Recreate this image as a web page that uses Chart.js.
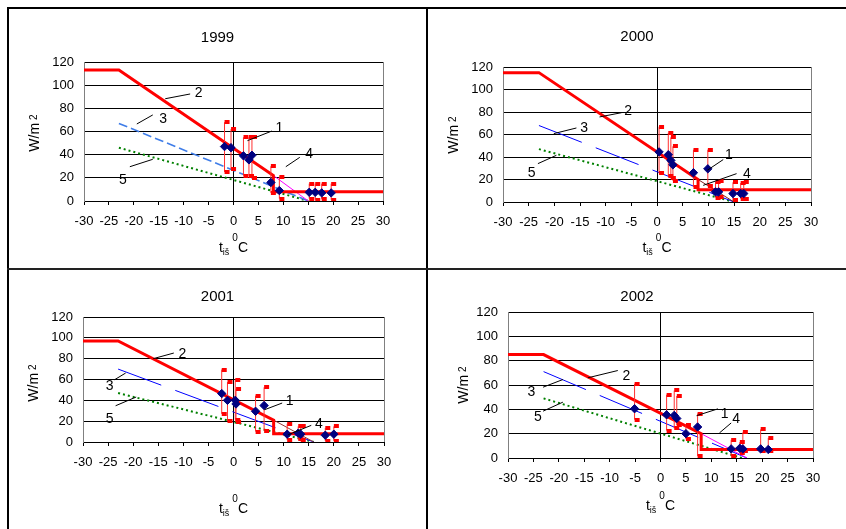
<!DOCTYPE html>
<html lang="lt">
<head>
<meta charset="utf-8">
<title>Šilumos poreikis 1999–2002</title>
<script src="https://cdn.jsdelivr.net/npm/chart.js@4.4.1/dist/chart.umd.min.js"></script>
<style>
  html, body { margin: 0; padding: 0; background: #fff; }
  body { width: 846px; height: 529px; position: relative; overflow: hidden; }
  .rule { position: absolute; background: #000; }
  .panel { position: absolute; }
</style>
</head>
<body>
<div class="rule" style="left:7px;top:7px;width:839px;height:2px"></div>
<div class="rule" style="left:7px;top:7px;width:2px;height:522px"></div>
<div class="rule" style="left:426px;top:7px;width:2px;height:522px"></div>
<div class="rule" style="left:7px;top:268px;width:839px;height:2px;background:#222"></div>
<div class="panel" id="p0"><canvas id="c0"></canvas></div>
<div class="panel" id="p1"><canvas id="c1"></canvas></div>
<div class="panel" id="p2"><canvas id="c2"></canvas></div>
<div class="panel" id="p3"><canvas id="c3"></canvas></div>

<script>
// Duomenys
const years = ['1999', '2000', '2001', '2002'];
const xTickValues = [-30, -25, -20, -15, -10, -5, 0, 5, 10, 15, 20, 25, 30];
const yTickValues = [0, 20, 40, 60, 80, 100, 120];

// 1 - measured points: outdoor temp, mean W/m2, max, min
const measT = [
  [-1.8, -0.5, 2.0, 3.1, 3.7, 7.5, 9.2, 15.2, 16.4, 17.7, 19.6],
  [0.4, 2.2, 2.7, 3.1, 7.1, 9.9, 11.4, 12.0, 14.8, 16.3, 16.9],
  [-2.35, -1.2, 0.35, 0.5, 4.4, 6.1, 10.7, 12.9, 13.4, 18.3, 20.0],
  [-5.1, 1.2, 2.7, 3.2, 5.0, 7.3, 13.9, 15.6, 16.2, 19.7, 21.2]
];
const measQ = [
  [47, 46, 39, 35.5, 39.5, 16, 9, 7.5, 7.5, 7, 7],
  [44.5, 42, 37, 33, 26, 29.5, 9, 9, 7.5, 7.5, 7.5],
  [46.5, 40, 40, 36.5, 29.5, 35, 7.5, 8.5, 7.5, 6.5, 7.5],
  [40.5, 35.5, 35, 32.5, 20, 25.5, 7.5, 8, 7.5, 7.5, 7]
];
const measHi = [
  [68, 62, 55, 55, 55, 30, 21, 15, 15, 15, 15],
  [67, 61.5, 57.5, 49.5, 46.5, 46.5, 18, 19, 17.5, 17, 18],
  [69.5, 57.5, 60, 51, 44.5, 52.5, 17.5, 15, 15, 13.5, 15],
  [61, 52, 55.5, 51, 27, 36.5, 15, 13, 21, 23.5, 16.5]
];
const measLo = [
  [25, 27.5, 22, 22, 20, 7, 2, 2, 1, 1.5, 1],
  [25.5, 23, 21, 19, 13.5, 14, 4, 4.5, 1.5, 3, 3],
  [27, 20, 21.5, 19, 10, 11, 2, 2.5, 2, 1, 1],
  [31.5, 22.5, 24.5, 27, 15.5, 1.5, 1.5, 4.5, 5.5, 5.5, 5.5]
];

// 2 - norm line (break points)
const normX = [-30, -23, 8, 8, 30];
const normY = [
  [113, 113, 22, 8, 8],
  [115, 115, 20, 11, 11],
  [97, 97, 21, 8, 8],
  [85, 85, 20, 7, 7]
];

// 3, 4, 5 - straight lines (start/end)
const line3X = [[-23, 15], [-23, 15], [-23, 16], [-23, 17]];
const line3Y = [[67, 0], [68, 0], [70, 0], [71, 0]];
const line4X = [[8, 15], [8, 15], [8, 16], [8, 17]];
const line4Y = [[22, 0], [20, 0], [21, 0], [20, 0]];
const line5X = [[-23, 15], [-23, 15], [-23, 16], [-23, 16]];
const line5Y = [[46, 0], [47, 0], [47, 0], [49, 0]];

// curve numbers: label, text x/y, leader from x/y, leader to x/y (axis units)
const callouts = [
  [['2', -7.0, 94, -13.7, 88.3, -8.7, 92.4], ['3', -14.1, 71.4, -19.4, 66.5, -16.2, 74.3],
   ['5', -22.2, 19, -20.8, 29.6, -16.2, 36], ['1', 9.2, 64.2, 2.8, 52.1, 7.7, 60.4],
   ['4', 15.2, 41.7, 10.5, 29.6, 13.3, 37.7]],
  [['2', -5.6, 81.5, -11.2, 75.6, -6.9, 79.4], ['3', -14.2, 66.7, -20.1, 60.8, -15.7, 65.8],
   ['5', -24.4, 26.7, -23.2, 34.1, -19.6, 41.5], ['1', 14.0, 42.4, 9.8, 28.2, 12.9, 37.7],
   ['4', 17.5, 25.8, 9.0, 14.8, 15.5, 25.2]],
  [['2', -10.2, 85.4, -16.0, 80, -11.9, 85.4], ['3', -24.7, 55, -23.7, 59.8, -21.5, 66.2],
   ['5', -24.7, 23, -23.5, 34.8, -19.4, 43.2], ['1', 11.2, 40.6, 6.2, 31, 9.7, 37.4],
   ['4', 17.0, 18.2, 10.9, 7, 15.5, 16]],
  [['2', -6.7, 68.6, -14.3, 65.9, -8.4, 71.9], ['3', -25.4, 54.9, -23.1, 58.2, -19.2, 64.5],
   ['5', -24.1, 34.3, -23.1, 38.5, -19.2, 45.9], ['1', 12.6, 37.1, 7.1, 34.8, 11.3, 40.4],
   ['4', 14.9, 33, 11.6, 20.6, 13.9, 28.8]]
];

// Layout (page px): canvas box, plot area, title/axis-title positions
const boxes = [
  { l: 9, t: 9, w: 417, h: 259 }, { l: 428, t: 9, w: 418, h: 259 },
  { l: 9, t: 270, w: 417, h: 259 }, { l: 428, t: 270, w: 418, h: 259 }
];
const plots = [
  { l: 84, t: 62, r: 383, b: 201 }, { l: 503, t: 67, r: 811, b: 202 },
  { l: 83, t: 317, r: 384, b: 442 }, { l: 508, t: 312, r: 813, b: 458 }
];
const titleBase = [41.5, 41, 301.3, 301.3];
const xTitleBase = [251.7, 251.7, 513, 510];
const yTitleBase = [39.3, 458.3, 38.3, 468];
const yTitleMid = [133, 135, 383, 385];

const line3Style = [
  { color: '#3f7de8', width: 1.6, dash: [9, 4] },
  { color: '#0000ff', width: 1, dash: [46, 15] },
  { color: '#0000ff', width: 1, dash: [46, 15] },
  { color: '#0000ff', width: 1, dash: [46, 15] }
];
const line4Color = ['#ff00ff', '#7f1f1f', '#993333', '#ff00ff'];

const FONT = '"Liberation Sans", Arial, sans-serif';
Chart.defaults.font.family = FONT;
Chart.defaults.color = '#000';

// red flag used for max/min marks (square sits right of the bar)
const flag = document.createElement('canvas');
flag.width = 12;
flag.height = 4;
const fctx = flag.getContext('2d');
fctx.fillStyle = '#ff0000';
fctx.fillRect(6, 0, 5, 4);

const pts = (xs, ys) => xs.map((x, i) => ({ x, y: ys[i] }));

function drawRich(ctx, parts, x, y, rotate) {
  ctx.save();
  ctx.translate(x, y);
  if (rotate) ctx.rotate(-Math.PI / 2);
  let total = 0;
  parts.forEach(p => {
    ctx.font = p.size + 'px ' + FONT;
    p.w = ctx.measureText(p.t).width + (p.gap || 0);
    total += p.w;
  });
  let cx = -total / 2;
  ctx.fillStyle = '#000';
  ctx.textBaseline = 'alphabetic';
  ctx.textAlign = 'left';
  parts.forEach(p => {
    ctx.font = p.size + 'px ' + FONT;
    ctx.fillText(p.t, cx, p.dy || 0);
    cx += p.w;
  });
  ctx.restore();
}

function makeDecor(i) {
  const box = boxes[i];
  return {
    id: 'decor',
    afterDraw(chart) {
      const { ctx, scales: { x, y }, chartArea: a } = chart;
      // title
      ctx.save();
      ctx.font = '15px ' + FONT;
      ctx.fillStyle = '#000';
      ctx.textAlign = 'center';
      ctx.textBaseline = 'alphabetic';
      ctx.fillText(years[i], box.w / 2, titleBase[i] - box.t);

      // curve numbers with leaders
      ctx.font = '14px ' + FONT;
      ctx.strokeStyle = '#000';
      ctx.lineWidth = 1;
      callouts[i].forEach(([txt, tx, ty, x1, y1, x2, y2]) => {
        ctx.beginPath();
        ctx.moveTo(x.getPixelForValue(x1), y.getPixelForValue(y1));
        ctx.lineTo(x.getPixelForValue(x2), y.getPixelForValue(y2));
        ctx.stroke();
        ctx.fillText(txt, x.getPixelForValue(tx), y.getPixelForValue(ty) + 5);
      });
      ctx.restore();

      // axis titles
      drawRich(ctx, [
        { t: 't', size: 14 }, { t: 'iš', size: 9, dy: 3, gap: 3 },
        { t: '0', size: 10, dy: -11 }, { t: 'C', size: 14 }
      ], (a.left + a.right) / 2, xTitleBase[i] - box.t, false);
      drawRich(ctx, [
        { t: 'W/m', size: 14, gap: 3 }, { t: '2', size: 10, dy: -2 }
      ], yTitleBase[i] - box.l, yTitleMid[i] - box.t, true);
    }
  };
}

years.forEach((yr, i) => {
  const box = boxes[i];
  const plot = plots[i];
  const wrap = document.getElementById('p' + i);
  wrap.style.left = box.l + 'px';
  wrap.style.top = box.t + 'px';
  wrap.style.width = box.w + 'px';
  wrap.style.height = box.h + 'px';

  const bars = measT[i].flatMap((t, k) => [
    { x: t, y: measLo[i][k] }, { x: t, y: measHi[i][k] }, { x: t, y: null }
  ]);
  const marks = measT[i].flatMap((t, k) => [
    { x: t, y: measLo[i][k] }, { x: t, y: measHi[i][k] }
  ]);

  const datasets = [
    { // 1 measured mean
      data: pts(measT[i], measQ[i]),
      pointStyle: 'rectRot', pointRadius: 4.2,
      backgroundColor: '#000080', borderColor: '#000080', borderWidth: 1
    },
    { data: marks, pointStyle: flag, pointRadius: 3 },
    {
      data: bars, showLine: true, pointRadius: 0,
      borderColor: '#ff3030', borderWidth: 1
    },
    { // 2 norm
      data: pts(normX, normY[i]), showLine: true, pointRadius: 0,
      borderColor: '#ff0000', borderWidth: 3, clip: 3
    },
    { // 4
      data: pts(line4X[i], line4Y[i]), showLine: true, pointRadius: 0,
      borderColor: line4Color[i], borderWidth: 1
    },
    { // 3
      data: pts(line3X[i], line3Y[i]), showLine: true, pointRadius: 0,
      borderColor: line3Style[i].color, borderWidth: line3Style[i].width,
      borderDash: line3Style[i].dash
    },
    { // 5
      data: pts(line5X[i], line5Y[i]), showLine: true, pointRadius: 0,
      borderColor: '#008000', borderWidth: 2, borderDash: [2, 3]
    }
  ];

  new Chart(document.getElementById('c' + i), {
    type: 'scatter',
    data: { datasets },
    options: {
      responsive: true,
      maintainAspectRatio: false,
      animation: false,
      devicePixelRatio: 1,
      events: [],
      layout: {
        padding: { left: 0, top: plot.t - box.t, right: box.l + box.w - plot.r, bottom: 0 }
      },
      plugins: {
        legend: { display: false },
        tooltip: { enabled: false },
        title: { display: false }
      },
      scales: {
        x: {
          type: 'linear', min: -30, max: 30,
          afterFit: s => { s.height = box.t + box.h - plot.b; },
          afterBuildTicks: s => { s.ticks = xTickValues.map(v => ({ value: v })); },
          ticks: { autoSkip: false, maxRotation: 0, padding: 9, color: '#000', font: { size: 13 } },
          grid: {
            color: c => c.tick && c.tick.value === 0 ? '#000' : (c.tick && c.tick.value === 30 ? '#808080' : 'rgba(0,0,0,0)'),
            tickColor: '#000', tickLength: 4, lineWidth: 1
          },
          border: { color: '#000' }
        },
        y: {
          type: 'linear', min: 0, max: 120,
          afterFit: s => { s.width = plot.l - box.l; },
          afterBuildTicks: s => { s.ticks = yTickValues.map(v => ({ value: v })); },
          ticks: { padding: 10, color: '#000', font: { size: 13 } },
          grid: { color: '#000', lineWidth: 1, drawTicks: false },
          border: { color: '#808080' }
        }
      }
    },
    plugins: [makeDecor(i)]
  });
});
</script>
</body>
</html>
